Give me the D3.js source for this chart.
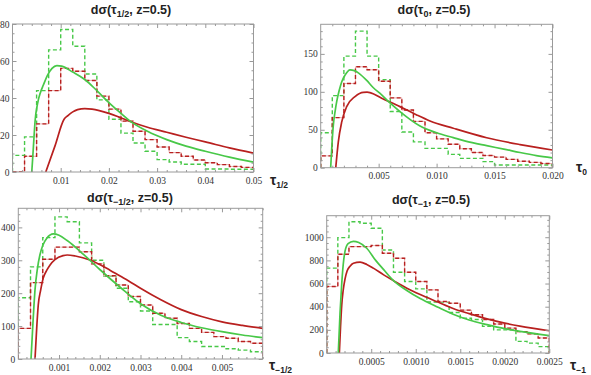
<!DOCTYPE html>
<html><head><meta charset="utf-8">
<script src="https://cdn.jsdelivr.net/npm/d3@7"></script>
<style>body{margin:0;background:#fff}svg{display:block}</style>
</head><body>
<svg id="c" width="591" height="375"></svg>
<script>
// ---------- DATA ----------
// Panel 1: tau_{1/2}
const p1BinWidth = 0.0025;
const p1RedHist   = [0, 8.5, 26, 44, 56, 54.5, 49.5, 41, 34, 27.5, 22, 17.5, 13.5, 10.5, 8.5, 6.5, 5, 4, 3, 2.5];
const p1GreenHist = [9, 19, 44, 66, 77, 68, 53, 39, 28.5, 21, 15.7, 11.2, 6.7, 5.4, 4.2, 4.2, 1.6, 1.6, 1.5, 1.5];
const p1RedCurve = [[0.0069,0],[0.0088,14],[0.0107,28.5],[0.0115,30.5],[0.0125,32.5],[0.0135,33.7],[0.015,34.3],[0.0165,34],[0.018,33.2],[0.02,31.7],[0.022,29.8],[0.0244,27.3],[0.028,24.2],[0.032,21.5],[0.036,18.8],[0.04,16.3],[0.045,13],[0.05,10.2]];
const p1GreenCurve = [[0.0040,0],[0.0043,12],[0.0047,28],[0.0052,37],[0.0058,43],[0.0064,47],[0.0072,52],[0.0082,56],[0.0092,57.5],[0.0102,57.2],[0.0125,54],[0.015,50],[0.0175,44],[0.02,37.5],[0.0225,31.7],[0.0244,27.5],[0.028,22],[0.032,17.5],[0.036,14],[0.04,11.2],[0.045,8],[0.05,5.3]];
const p1XTicks = [0.01, 0.02, 0.03, 0.04, 0.05];
const p1XLabels = ["0.01", "0.02", "0.03", "0.04", "0.05"];
const p1YTicks = [0, 20, 40, 60, 80];

// Panel 2: tau_0
const p2BinWidth = 0.001;
const p2RedHist   = [15.6, 66, 111, 133, 129, 114, 92, 76, 61, 46, 38, 31, 25, 20, 16, 14, 11, 8.5, 7, 5.5];
const p2GreenHist = [46, 95, 147, 180, 147, 116, 74, 47, 34, 25.5, 25.5, 17.6, 12.3, 12.3, 8, 3.6, 3.6, 3.6, 3.6, 3.6];
const p2RedCurve = [[0.0013,0],[0.00152,34],[0.00181,60],[0.00224,80.5],[0.00296,93.7],[0.00368,99.4],[0.004,99.5],[0.00425,99],[0.00526,91.5],[0.00684,80.5],[0.00828,69.5],[0.00943,61.6],[0.01144,52],[0.01432,39.5],[0.0172,30.5],[0.02,23.3]];
const p2GreenCurve = [[0.00086,0],[0.00095,25],[0.00109,56],[0.00125,75],[0.00138,87],[0.0016,102],[0.00181,113],[0.0021,122],[0.00253,129],[0.0029,128],[0.00325,125],[0.00397,115],[0.0045,106],[0.00526,96],[0.006,85],[0.00684,74],[0.00857,55],[0.01,46],[0.01144,39.6],[0.0125,35],[0.01432,29],[0.0158,24.5],[0.0172,20],[0.0186,16],[0.02,13]];
const p2XTicks = [0.005, 0.010, 0.015, 0.020];
const p2XLabels = ["0.005", "0.010", "0.015", "0.020"];
const p2YTicks = [0, 50, 100, 150];

// Panel 3: tau_{-1/2}
const p3BinWidth = 0.0003;
const p3RedHist   = [93, 232, 303, 340, 340, 326, 289, 253, 225, 190, 164, 139, 124, 108, 93, 81, 68, 63, 53, 48];
const p3GreenHist = [186, 280, 369, 432, 417, 353, 300, 252, 215, 174, 146, 105, 105, 65, 53, 38, 38, 31, 27, 22];
const p3RedCurve = [[0.00041,0],[0.00045,90],[0.00049,164],[0.00055,210],[0.00061,245],[0.0007,270],[0.00078,286],[0.0009,302],[0.0011,314],[0.0012,316],[0.0014,313],[0.00176,301],[0.00225,270],[0.0025,252],[0.0027,238],[0.003,215],[0.0035,180],[0.004,150],[0.0045,129],[0.005,113],[0.0055,102],[0.006,93]];
const p3GreenCurve = [[0.000312,0],[0.00036,110],[0.00041,210],[0.00047,275],[0.00053,316],[0.0006,345],[0.0007,367],[0.00086,380],[0.001,376],[0.0012,360],[0.0016,318],[0.002,272],[0.0025,218],[0.003,168],[0.0035,133],[0.004,111],[0.0045,95],[0.005,83],[0.0055,73],[0.006,65]];
const p3XTicks = [0.001, 0.002, 0.003, 0.004, 0.005];
const p3XLabels = ["0.001", "0.002", "0.003", "0.004", "0.005"];
const p3YTicks = [0, 100, 200, 300, 400];

// Panel 4: tau_{-1}
const p4BinWidth = 0.000125;
const p4RedHist   = [574, 853, 919, 919, 928, 862, 819, 698, 617, 545, 445, 430, 370, 330, 290, 250, 215, 185, 165, 130];
const p4GreenHist = [733, 997, 1134, 1121, 1078, 890, 698, 617, 554, 440, 440, 350, 300, 290, 230, 200, 200, 100, 85, 55];
const p4RedCurve = [[0.000142,0],[0.000155,220],[0.000169,416],[0.000185,540],[0.000206,640],[0.00023,710],[0.000262,750],[0.0003,775],[0.000375,785],[0.00045,765],[0.000524,733],[0.00064,675],[0.00075,625],[0.0009,560],[0.00105,505],[0.00125,440],[0.00142,385],[0.0016,340],[0.0018,295],[0.002,258],[0.00217,232],[0.0025,192]];
const p4GreenCurve = [[0.00013,0],[0.00015,350],[0.000169,600],[0.000185,760],[0.000206,880],[0.00024,945],[0.0003,965],[0.00036,955],[0.00045,905],[0.00055,800],[0.00064,720],[0.00075,625],[0.0009,540],[0.00105,470],[0.00125,395],[0.00142,335],[0.0016,285],[0.0018,245],[0.002,210],[0.00217,187],[0.0025,150]];
const p4XTicks = [0.0005, 0.0010, 0.0015, 0.0020, 0.0025];
const p4XLabels = ["0.0005", "0.0010", "0.0015", "0.0020", "0.0025"];
const p4YTicks = [0, 200, 400, 600, 800, 1000];

// ---------- LAYOUT ----------
const RED = "#b8201f", GREEN = "#48c848";
const svg = d3.select("#c");

const panels = [
  {id:1, box:[12.5,253.5,24,172], xMax:0.05, yMax:80, bw:p1BinWidth, red:p1RedHist, green:p1GreenHist, rc:p1RedCurve, gc:p1GreenCurve,
   xt:p1XTicks, xl:p1XLabels, xm:0.002, yt:p1YTicks, ym:5, sub:"1/2", title:[131,14], ax:[270,185]},
  {id:2, box:[320.7,552.5,24.3,167.7], xMax:0.02, yMax:189, bw:p2BinWidth, red:p2RedHist, green:p2GreenHist, rc:p2RedCurve, gc:p2GreenCurve,
   xt:p2XTicks, xl:p2XLabels, xm:0.001, yt:p2YTicks, ym:10, sub:"0", title:[434,14], ax:[576,172]},
  {id:3, box:[18.3,262.7,208.3,359], xMax:0.006, yMax:458, bw:p3BinWidth, red:p3RedHist, green:p3GreenHist, rc:p3RedCurve, gc:p3GreenCurve,
   xt:p3XTicks, xl:p3XLabels, xm:0.0002, yt:p3YTicks, ym:20, sub:"\u22121/2", title:[130,202], ax:[269,370]},
  {id:4, box:[326.7,549.3,215.7,353], xMax:0.0025, yMax:1186, bw:p4BinWidth, red:p4RedHist, green:p4GreenHist, rc:p4RedCurve, gc:p4GreenCurve,
   xt:p4XTicks, xl:p4XLabels, xm:0.0001, yt:p4YTicks, ym:50, sub:"\u22121", title:[431,204], ax:[570,370]}
];

function histPoints(vals, bw){
  const pts = [[0,0]];
  vals.forEach((v,i)=>{ pts.push([i*bw, v]); pts.push([(i+1)*bw, v]); });
  pts.push([vals.length*bw, 0]);
  return pts;
}
function minorTicks(max, step, majors){
  const out=[];
  for(let k=1; k*step < max*1.0001; k++){
    const v = k*step;
    if(!majors.some(m=>Math.abs(m-v) < step*0.01)) out.push(v);
  }
  return out;
}

panels.forEach(p=>{
  const [L,R,T,B] = p.box;
  const x = d3.scaleLinear().domain([0,p.xMax]).range([L,R]);
  const y = d3.scaleLinear().domain([0,p.yMax]).range([B,T]);
  const g = svg.append("g");
  const cid = "clip"+p.id;
  svg.append("defs").append("clipPath").attr("id",cid).append("rect")
    .attr("x",L).attr("y",T-1).attr("width",R-L).attr("height",B-T+1);

  const plot = g.append("g").attr("clip-path",`url(#${cid})`);
  const lineL = d3.line().x(d=>x(d[0])).y(d=>y(d[1]));
  const lineC = d3.line().x(d=>x(d[0])).y(d=>y(d[1])).curve(d3.curveMonotoneX);

  plot.append("path").attr("d",lineL(histPoints(p.green,p.bw))).attr("fill","none")
    .attr("stroke",GREEN).attr("stroke-width",1.4).attr("stroke-dasharray","4,2.5");
  plot.append("path").attr("d",lineL(histPoints(p.red,p.bw))).attr("fill","none")
    .attr("stroke","#e8b0b0").attr("stroke-width",1);
  plot.append("path").attr("d",lineL(histPoints(p.red,p.bw))).attr("fill","none")
    .attr("stroke",RED).attr("stroke-width",1.4).attr("stroke-dasharray","4,2.5");
  plot.append("path").attr("d",lineC(p.rc)).attr("fill","none")
    .attr("stroke",RED).attr("stroke-width",1.7);
  plot.append("path").attr("d",lineC(p.gc)).attr("fill","none")
    .attr("stroke",GREEN).attr("stroke-width",1.7);

  // axes (frame ticks inward)
  const fmt = d => { const i = p.xt.findIndex(t=>Math.abs(t-d)<1e-12); return i>=0 ? p.xl[i] : ""; };
  const xm = minorTicks(p.xMax, p.xm, p.xt);
  const ym = minorTicks(p.yMax, p.ym, p.yt);
  const style = sel => { sel.select(".domain").remove(); sel.selectAll("line").attr("stroke","#999");
    sel.selectAll("text").attr("font-family","'Liberation Serif','Times New Roman',serif").attr("font-size",9.5).attr("fill","#333"); };

  g.append("g").attr("transform",`translate(0,${B})`).call(d3.axisBottom(x).tickValues(p.xt).tickSize(-4).tickPadding(5).tickFormat(fmt)).call(style);
  g.append("g").attr("transform",`translate(0,${B})`).call(d3.axisBottom(x).tickValues(xm).tickSize(-2).tickFormat("")).call(style);
  g.append("g").attr("transform",`translate(0,${T})`).call(d3.axisTop(x).tickValues(p.xt).tickSize(-4).tickFormat("")).call(style);
  g.append("g").attr("transform",`translate(0,${T})`).call(d3.axisTop(x).tickValues(xm).tickSize(-2).tickFormat("")).call(style);
  g.append("g").attr("transform",`translate(${L},0)`).call(d3.axisLeft(y).tickValues(p.yt).tickSize(-4).tickPadding(3).tickFormat(d3.format("d"))).call(style);
  g.append("g").attr("transform",`translate(${L},0)`).call(d3.axisLeft(y).tickValues(ym).tickSize(-2).tickFormat("")).call(style);
  g.append("g").attr("transform",`translate(${R},0)`).call(d3.axisRight(y).tickValues(p.yt).tickSize(-4).tickFormat("")).call(style);
  g.append("g").attr("transform",`translate(${R},0)`).call(d3.axisRight(y).tickValues(ym).tickSize(-2).tickFormat("")).call(style);

  g.append("rect").attr("x",L).attr("y",T).attr("width",R-L).attr("height",B-T)
    .attr("fill","none").attr("stroke","#9a9a9a").attr("stroke-width",1);

  // title
  const t = g.append("text").attr("x",p.title[0]).attr("y",p.title[1]).attr("text-anchor","middle")
    .attr("font-family","'Liberation Sans',Arial,sans-serif").attr("font-weight","bold").attr("font-size",12.5).attr("fill","#222");
  t.append("tspan").text("d\u03C3(\u03C4");
  t.append("tspan").attr("font-size",9).attr("dy",3).text(p.sub);
  t.append("tspan").attr("dy",-3).text(", z=0.5)");

  // axis label
  const a = g.append("text").attr("x",p.ax[0]).attr("y",p.ax[1])
    .attr("font-family","'Liberation Sans',Arial,sans-serif").attr("font-weight","bold").attr("font-size",14).attr("fill","#222");
  a.append("tspan").text("\u03C4");
  a.append("tspan").attr("font-size",8.5).attr("dy",3).text(p.sub);
});
</script>
</body></html>
